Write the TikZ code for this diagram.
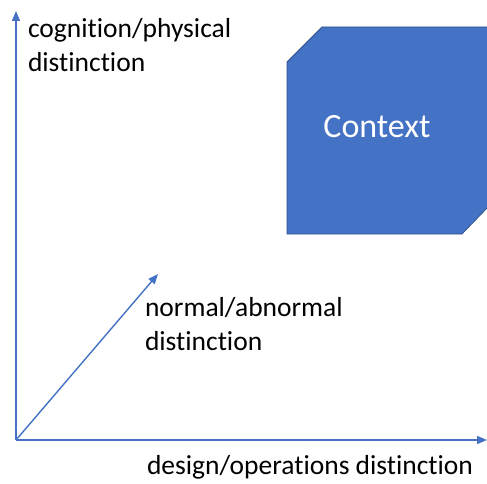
\documentclass[tikz,border=0pt]{standalone}
\usepackage{fontspec}
\setmainfont{Carlito}[Ligatures=NoCommon]
\usepackage{tikz}
\usetikzlibrary{arrows.meta}
\definecolor{officeblue}{HTML}{4472C4}
\definecolor{officeborder}{HTML}{2F528F}

\begin{document}
\begin{tikzpicture}[x=1pt, y=-1pt,
      axis/.style={draw=officeblue, line width=1.4pt, -{Triangle[length=10pt,width=8pt]}},
      every node/.append style={inner sep=0pt, outer sep=0pt}]
    \tikzstyle{axistext} = [font=\fontsize{27.5}{34}\selectfont, align=left, anchor=base west, color=black]
    \useasboundingbox (0,0) rectangle (487,484);
    % the context block
    \fill[officeblue, draw=officeborder, line width=0.75pt]
      (322,27) -- (489,27) -- (489,206) -- (462,234) -- (287,234) -- (287,62) -- cycle;
    \node (context) [anchor=base, font=\fontsize{34}{40}\selectfont, color=white] at (377,138) {Context};
    % axes
    \coordinate (origin) at (16,440);
    \coordinate (ytip) at (16,11);
    \coordinate (xtip) at (487,440);
    \coordinate (ztip) at (158,274);
    \draw[axis] (origin) -- (ytip);
    \draw[axis] (origin) -- (xtip);
    \draw[axis] (origin) -- (ztip);
    \node (cognition) [axistext] at (28,72) {cognition/physical\\distinction};
    \node (normal) [axistext] at (145,350) {normal/abnormal\\distinction};
    \node (design) [axistext] at (147,474) {design/operations distinction};
\end{tikzpicture}
\end{document}
